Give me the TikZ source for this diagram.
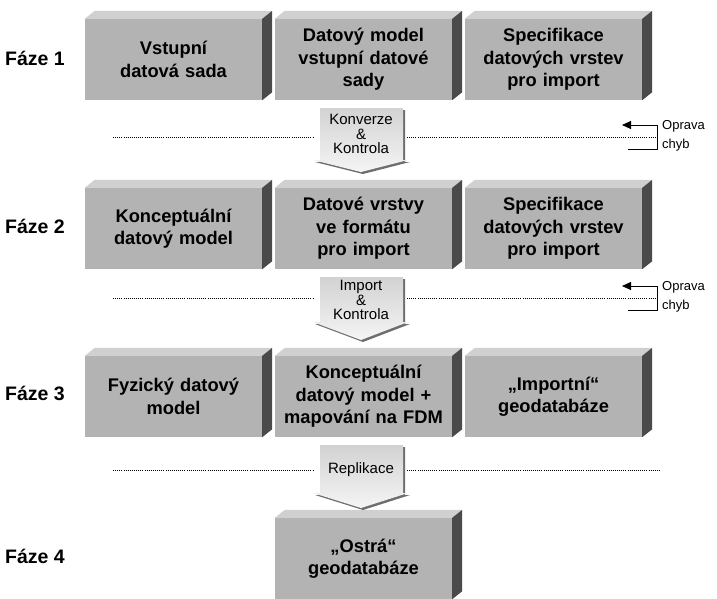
\documentclass[tikz,border=0pt]{standalone}
\usepackage{fontspec}
\setmainfont{Liberation Sans}
\usetikzlibrary{arrows.meta}
\definecolor{celo}{HTML}{B3B3B3}
\definecolor{vrch}{HTML}{D0D0D0}
\definecolor{bok}{HTML}{4A4A4A}
\definecolor{stin}{HTML}{6E6E6E}
\begin{document}
\begin{tikzpicture}[x=1pt,y=-1pt,
every node/.style={inner sep=0pt, align=center},
kvadr/.style={rectangle, fill=celo, minimum width=177pt, minimum height=81pt,
text width=172pt, font=\bfseries\fontsize{18.3}{22.5}\selectfont},
faze/.style={anchor=west, font=\bfseries\fontsize{19.5}{22}\selectfont},
sipkatext/.style={font=\fontsize{15}{14.5}\selectfont},
oprava/.style={anchor=west, align=left, font=\fontsize{13}{19}\selectfont},
tecky/.style={line width=0.8pt, dash pattern=on 0.8pt off 1.3pt},
zpet/.style={line width=0.9pt, -{Triangle[length=9pt,width=8pt]}}]
\useasboundingbox (0,0) rectangle (717,598);
% kvadry
\node (vstupSada) at (173.5,59.5) [kvadr] {Vstupní\\datová sada};
\node (datModel) at (363.5,59.5) [kvadr] {Datový model\\vstupní datové\\sady};
\node (spec1) at (553.5,59.5) [kvadr] {Specifikace\\datových vrstev\\pro import};
\node (konceptModel) at (173.5,228.5) [kvadr] {Konceptuální\\datový model};
\node (datVrstvy) at (363.5,228.5) [kvadr] {Datové vrstvy\\ve formátu\\pro import};
\node (spec2) at (553.5,228.5) [kvadr] {Specifikace\\datových vrstev\\pro import};
\node (fyzModel) at (173.5,396.5) [kvadr] {Fyzický datový\\model};
\node (mapovani) at (363.5,396.5) [kvadr] {Konceptuální\\datový model +\\mapování na FDM};
\node (importGdb) at (553.5,396.5) [kvadr] {„Importní“\\geodatabáze};
\node (ostraGdb) at (363.5,558.5) [kvadr] {„Ostrá“\\geodatabáze};
\foreach \n in {vstupSada,datModel,spec1,konceptModel,datVrstvy,spec2,
fyzModel,mapovani,importGdb,ostraGdb} {
\fill [vrch] (\n.north west) -- ++(10,-8) -- ([shift={(10,-8)}]\n.north east)
-- (\n.north east) -- cycle;
\fill [bok] (\n.north east) -- ++(10,-8) -- ([shift={(10,-8)}]\n.south east)
-- (\n.south east) -- cycle;
}
% faze
\node (faze1) at (5,58) [faze] {Fáze 1};
\node (faze2) at (5,226) [faze] {Fáze 2};
\node (faze3) at (5,393) [faze] {Fáze 3};
\node (faze4) at (5,556) [faze] {Fáze 4};
% teckovane cary
\draw [tecky] (113,137) -- (313,137);
\draw [tecky] (407,137) -- (655,137);
\draw [tecky] (113,298) -- (313,298);
\draw [tecky] (407,298) -- (655,298);
\draw [tecky] (113,470) -- (313,470);
\draw [tecky] (407,470) -- (660,470);
% blokove sipky
\foreach \top/\fl/\tip in {108/160/172, 277/322/340, 445/493/508} {
\fill [stin, shift={(2,2)}] (320,\top) -- (403,\top) -- (403,\fl) -- (408,\fl)
-- (361,\tip) -- (313,\fl) -- (320,\fl) -- cycle;
\shade [top color=gray!35, bottom color=gray!8] (320,\top) -- (403,\top)
-- (403,\fl) -- (408,\fl) -- (361,\tip) -- (313,\fl) -- (320,\fl) -- cycle;
}
\node (konverze) at (361,134) [sipkatext] {Konverze\\\&\\Kontrola};
\node (import) at (361,300) [sipkatext] {Import\\\&\\Kontrola};
\node (replikace) at (361,470) [sipkatext] {Replikace};
% oprava chyb
\coordinate (oprStart1) at (628,149);
\coordinate (oprRoh1) at (657,149);
\coordinate (oprHore1) at (657,125);
\coordinate (oprCil1) at (622,125);
\draw [zpet] (oprStart1) -- (oprRoh1) -- (oprHore1) -- (oprCil1);
\node (oprava1) at (662,136) [oprava] {Oprava\\chyb};
\coordinate (oprStart2) at (628,310);
\coordinate (oprRoh2) at (657,310);
\coordinate (oprHore2) at (657,286);
\coordinate (oprCil2) at (622,286);
\draw [zpet] (oprStart2) -- (oprRoh2) -- (oprHore2) -- (oprCil2);
\node (oprava2) at (662,297) [oprava] {Oprava\\chyb};
\end{tikzpicture}
\end{document}
